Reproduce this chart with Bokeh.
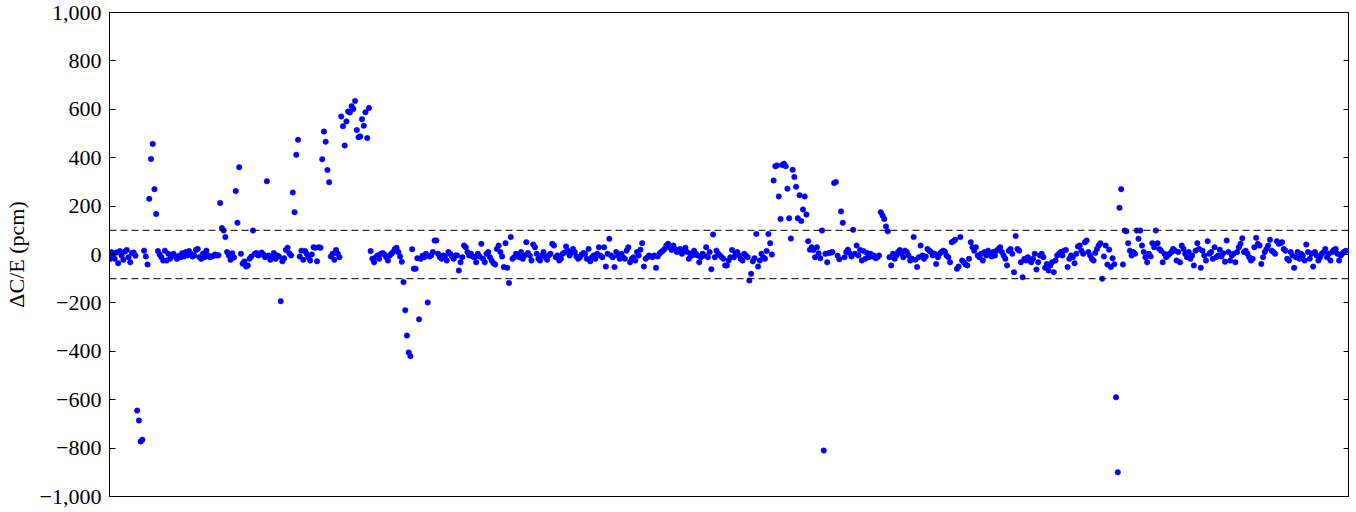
from bokeh.plotting import figure
from bokeh.models import Range1d, Span, LinearAxis, FixedTicker, ColumnDataSource
from bokeh.embed import file_html
from bokeh.resources import INLINE

# Delta C / E in pcm, one value per sample (sequential order)
seg01 = [-20, 10, -4, -18, 8, -36, 14, -4, -22, 12, 19, -11, -32, 6, 8, -5]
seg02 = [-645, -686, -773, -765]
seg03 = [16, -8, -41]
seg04 = [230, 395, 457, 270, 167]
seg05 = [14, 0, -11, -25, 16, -25, 3, -18, -4, 3, -8, -18, -6, -11, 5, -8, 10, -4,
         14, 3, -8, -4, 19, 23, -11, -18, 3, -11, 16, -4, -11, -8, -6, 0, -4, -3]
seg06 = [213, 109, 99, 72]
seg07 = [10, -4, -22, 5, -12]
seg08 = [262, 131, 361]
seg09 = [3, -38, -29, -50, -45, -18, -8]
seg10 = [99]
seg11 = [3, 6, -4, 0, 8, 0, -11]
seg12 = [303]
seg13 = [-4, -22, -11, 6, -18, -4, -8]
seg14 = [-193]
seg15 = [-28, -15, 19, 28, 5, -4]
seg16 = [256, 175, 412, 474]
seg17 = [-8, 16, -22, 14, 3, -11, -25, 0, 30, 28, -28, 30, 28]
seg18 = [394, 508, 466, 349, 299]
seg19 = [-8, 3, -22, 19, 3, -11]
seg20 = [570, 530, 450, 550, 591, 587, 613, 601, 634, 514, 485, 488, 559, 532, 588, 481, 605]
seg21 = [14, -18, -32, -11, -4, -18, 3, 6, 0, -11, -25, -4, 3, 10, 23, 28, 10, -8, -30]
seg22 = [-114, -230, -335, -405, -420]
seg23 = [22, -59, -59, -15, -268, -18, -5, -11, 3, -198, -8]
seg24 = [-4, 10, 58, 58, 3, -11, -18, -4, -8, -25, 10, 3, -8, -18, -4]
seg25 = [-4, -66, -32, -11, 37, 30, 10, -4, 3, -8, -11, -32]
seg26 = [3, -8, 44, -18, -32, 3, 10, -11, -25, -36, -41, 23, 37, 10, -8, -52, 47, -55,
         -118, 72, -18, -11, 3, -4, -11, 10, -18, -4]
seg27 = [51, 6, -4, -25, 41, 30, 3, -18, -25, -4, 10, -11, -22, -4, 3, 44, 37, -11, -4,
         -25, -18, 3, 8, 33, 16, -4, 6, 23, 10, -8]
seg28 = [-18, -11, 0, 6, 3, -18, 23, -28, -11, -4, -18, 3, 30, -5]
seg29 = [-11, 30, -50, 3, 65, -4, -11, -52, 10, -4, -18, 3, -11, -18, 16, 30, -32, -18,
         -11, -25, 10, -4, 20, 47, -50, -18, -11, -4, -8]
seg30 = [-11, -4, -55, -8, 3, 10, 16, 23, 37, 44, 30, 19, 37, 23, 10, 16, 23, 3, 16, 28,
         10, -18, 3, -4, 16, 3, -4, -32, -11]
seg31 = [3, -4, 30, -11, 10, -61, 83, -11, 16, 3, -4, -11, -18, -45]
seg32 = [-45, -25, -11, 19, -11, 3, 10, -4, -18, -25, 3, -4, -11, -107, -80, -28, -15]
seg33 = [85, -50, -25, 3, -11, -18, 14, 85, 47, 0]
seg34 = [306, 365, 368, 240, 147, 370, 375, 365, 272, 150, 66, 350, 320, 280, 150, 245,
         138, 186, 240, 165, 55, 20, 30, 19, -11, 30, 5, -15, 99]
seg35 = [-810]
seg36 = [3, -32, 6, 8, 10, 295, 300, -5, -20, 178, 131, -11, 10, 20, 5, -8, 102]
seg37 = [3, 37, -4, 19, -25, 14, -18, 6, -11, 3, -8, -4, -15, -11, -4]
seg38 = [175, 161, 147, 116, 96]
seg39 = [-11, -45, 3, -18, -4, 10, 19, 3, -11, 16, 10, -4, -25, -18, 72, -22, -52, -11,
         37, -4, -18, -8]
seg40 = [23, 16, 10, -4, 3, -39, -11, 3, 10, 16, 12, -4, -11, -32, 51, 55, 61, -59, -50,
         72, -25, -32, -41, -45, -18, 51, 30, 16]
seg41 = [30, -4, -11, 3, -25, 10, -4, 16, 3, -8, 10, -4, 16, 23, 30, 10, -4, -18, -45,
         16, 23, 3, -73, 76, 23, 16, -32, -94, -18, -25]
seg42 = [-11, -25, -32, -18, 3, -62, -32, -4, 3, -11, -55, -39, -66, -45, -32, -73, -25,
         -4, 3, 10, -4, 16, 19, -52, -18, -4, -11, -36, 3, 33]
seg43 = [37, 16, 3, 51, 58, 10, -4, -18, -25, 6, 23, 37, 47]
seg44 = [-100, -8, 37, -41, 20, -52, -15, -40, -590, -900, 193, 270, -41, 99, 96, 47, 16,
         -4, 10, 3, 99, 65, 99, 37, 10, -11, -32]
seg45 = [3, -8, 47, 30, 99, 47, 23, 16, -32, 3, -11, -4, 3, 10, 23, 16, -25, 10, -32, 37,
         23, 3, -11, 10, -18, -4, -45, 16, 47, 23]
seg46 = [-55, 16, -4, -25, 55, 3, 10, -18, 30, -11, -4, 20, -8, 5, -30]
seg47 = [58, 10, -25, -4, 3, -32, 10, 30, 44, 67, 10, 16, 3, -11, -25, -18, 30, 69, 44,
         37, -39, -11, 10, 23, 37, 61, 16, 10, 3, 55, 44, 47, 51, 23, 16, -18, -25, 10,
         -4, -55, -11, 10, -18, 3, -4, -25, 41, 10, -18, 3, -50, 10, -4, -25, -11, 3, 10,
         23, -11, 3, -25, 10, 19, 23, 3, -25, -4, 5, 12, 15]

segments = [seg01, seg02, seg03, seg04, seg05, seg06, seg07, seg08, seg09, seg10,
            seg11, seg12, seg13, seg14, seg15, seg16, seg17, seg18, seg19, seg20,
            seg21, seg22, seg23, seg24, seg25, seg26, seg27, seg28, seg29, seg30,
            seg31, seg32, seg33, seg34, seg35, seg36, seg37, seg38, seg39, seg40,
            seg41, seg42, seg43, seg44, seg45, seg46, seg47]

dce = [v for s in segments for v in s]
sample = list(range(len(dce)))

y_ticks = [-1000, -800, -600, -400, -200, 0, 200, 400, 600, 800, 1000]
y_tick_labels = ["\u22121,000", "\u2212800", "\u2212600", "\u2212400", "\u2212200", "0",
                 "200", "400", "600", "800", "1,000"]
limits = [-100, 100]

FONT = "'Liberation Serif', 'Times New Roman', serif"

p = figure(frame_width=1240, frame_height=484, output_backend="svg",
           toolbar_location=None, x_range=Range1d(0, len(dce) + 1),
           y_range=Range1d(-1000, 1000),
           min_border_left=100, min_border_right=0, min_border_top=12,
           min_border_bottom=14)
p.background_fill_color = "white"
p.border_fill_color = "white"
p.outline_line_color = "black"
p.outline_line_width = 1
p.xgrid.visible = False
p.ygrid.visible = False
p.xaxis.visible = False

ax = p.yaxis[0]
ax.ticker = FixedTicker(ticks=y_ticks)
ax.major_label_overrides = {t: l for t, l in zip(y_ticks, y_tick_labels)}
ax.major_label_text_font = FONT
ax.major_label_text_font_size = "22px"
ax.major_label_text_color = "black"
ax.major_tick_in = 6
ax.major_tick_out = 0
ax.minor_tick_in = 0
ax.minor_tick_out = 0
ax.major_label_standoff = 8
ax.axis_line_color = "black"
ax.major_tick_line_color = "black"
ax.axis_label = "\u0394C/E (pcm)"
ax.axis_label_text_font = FONT
ax.axis_label_text_font_size = "22px"
ax.axis_label_text_font_style = "normal"
ax.axis_label_text_color = "black"
ax.axis_label_standoff = 8

rax = LinearAxis(ticker=FixedTicker(ticks=y_ticks), major_label_text_font_size="0px",
                 major_tick_in=6, major_tick_out=0, minor_tick_in=0, minor_tick_out=0,
                 major_label_standoff=0, axis_line_color="black",
                 major_tick_line_color="black")
rax.major_label_overrides = {t: "" for t in y_ticks}
p.add_layout(rax, "right")

for lim in limits:
    p.add_layout(Span(location=lim, dimension="width", line_color="black",
                      line_width=1, line_dash="7 4"))

src = ColumnDataSource(data=dict(x=sample, y=dce))
p.scatter("x", "y", source=src, marker="circle", size=5.5, fill_color="#0000ff",
          line_color="#0000ff", line_width=0.5)

open("out.html", "w").write(file_html(p, INLINE))
